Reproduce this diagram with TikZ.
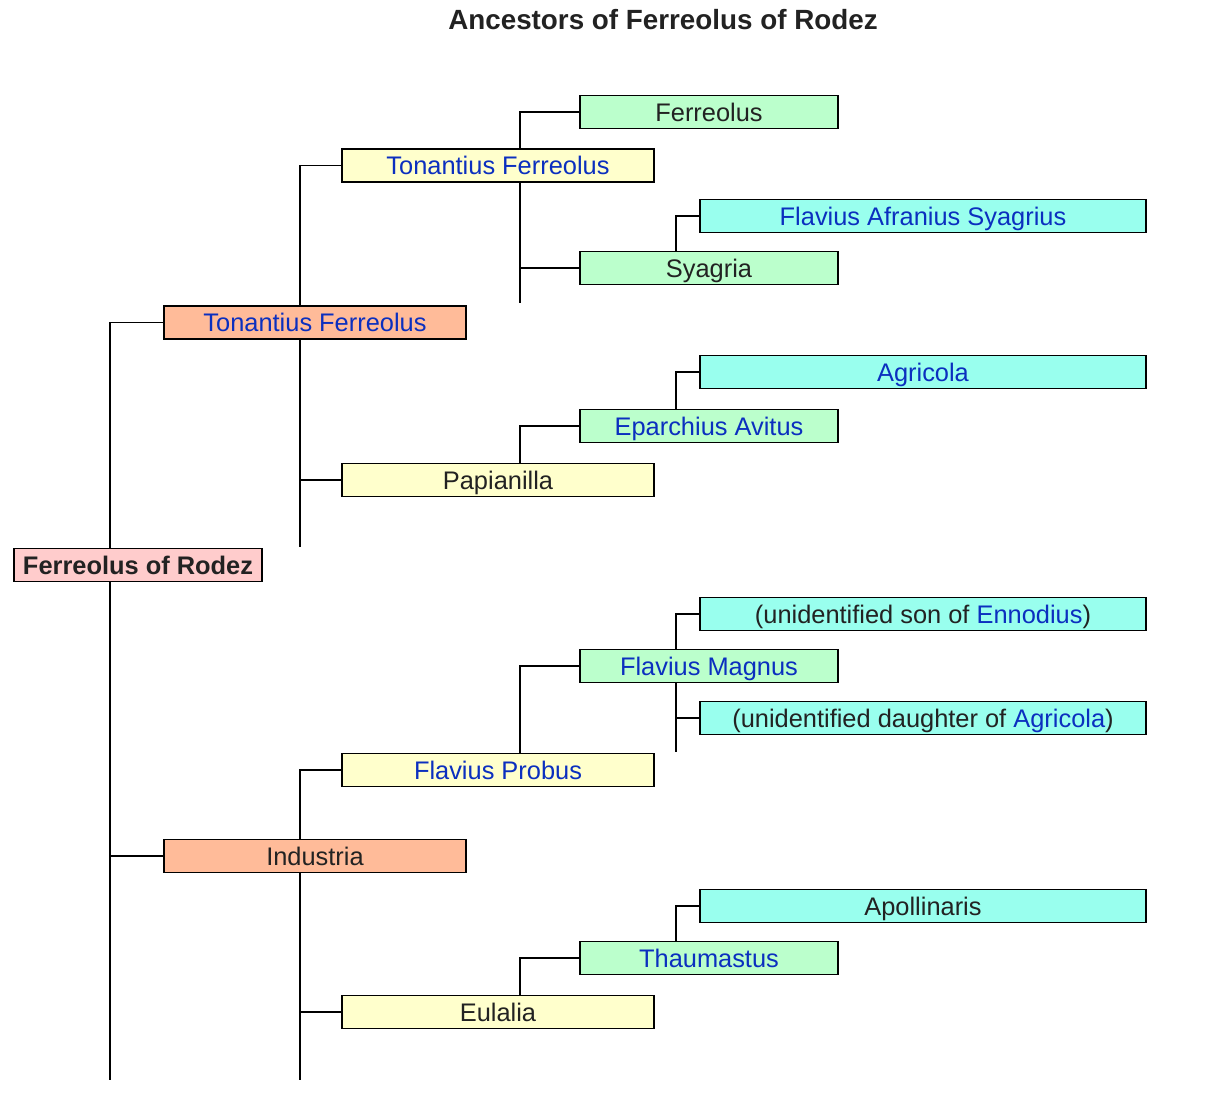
\documentclass[tikz,border=0pt]{standalone}
\usepackage{fontspec}
\setmainfont{Liberation Sans}
\usepackage{tikz}
\usetikzlibrary{positioning,backgrounds}
\usepackage{xcolor}

\definecolor{gen1}{HTML}{FFCCCC}
\definecolor{gen2}{HTML}{FFBB99}
\definecolor{gen3}{HTML}{FFFFCC}
\definecolor{gen4}{HTML}{BBFFCC}
\definecolor{gen5}{HTML}{99FFEE}
\definecolor{linkblue}{HTML}{0B2FBF}
\definecolor{inktext}{HTML}{222222}
\newcommand{\lnk}[1]{\textcolor{linkblue}{#1}}

\tikzset{
  person/.style={draw=black,line width=0.9pt,inner sep=0pt,minimum height=16.5pt,
                 text height=9.3pt,text depth=0pt,
                 text=inktext,font=\fontsize{12.7}{15}\selectfont},
  pone/.style={person,fill=gen1,minimum width=124pt,font=\fontsize{12.7}{15}\selectfont\bfseries},
  ptwo/.style={person,fill=gen2,minimum width=151pt},
  pthree/.style={person,fill=gen3,minimum width=156pt},
  pfour/.style={person,fill=gen4,minimum width=129pt},
  pfive/.style={person,fill=gen5,minimum width=223pt},
  link/.style={line width=0.9pt,black}
}

\begin{document}
\begin{tikzpicture}[x=0.5pt,y=-0.5pt]
  \useasboundingbox (0,0) rectangle (1216,1106);
  \node[font=\fontsize{13.9}{16}\selectfont\bfseries,text=inktext] (title) at (663,20) {Ancestors of Ferreolus of Rodez};

  \node[pone] (root) at (138,565) {Ferreolus of Rodez};

  \node[ptwo] (tonB) at (315,322.5) {\lnk{Tonantius Ferreolus}};
  \node[ptwo] (indus) at (315,856) {Industria};

  \node[pthree] (tonA) at (498,165.5) {\lnk{Tonantius Ferreolus}};
  \node[pthree] (papia) at (498,480) {Papianilla};
  \node[pthree] (probus) at (498,770) {\lnk{Flavius Probus}};
  \node[pthree] (eulal) at (498,1012) {Eulalia};

  \node[pfour] (ferre) at (709,112) {Ferreolus};
  \node[pfour] (syagr) at (709,268) {Syagria};
  \node[pfour] (avitus) at (709,426) {\lnk{Eparchius Avitus}};
  \node[pfour] (magnus) at (709,666) {\lnk{Flavius Magnus}};
  \node[pfour] (thaum) at (709,958) {\lnk{Thaumastus}};

  \node[pfive] (afran) at (923,216) {\lnk{Flavius Afranius Syagrius}};
  \node[pfive] (agric) at (923,372) {\lnk{Agricola}};
  \node[pfive] (ennod) at (923,614) {(unidentified son of \lnk{Ennodius})};
  \node[pfive] (daugh) at (923,718) {(unidentified daughter of \lnk{Agricola})};
  \node[pfive] (apoll) at (923,906) {Apollinaris};

  \coordinate (rootend) at (110,1080);
  \coordinate (tonBend) at (300,547);
  \coordinate (indusend) at (300,1080);
  \coordinate (tonAend) at (520,303);
  \coordinate (magnusend) at (676,752);

  \begin{scope}[on background layer]
    \draw[link] (tonB.west) -| (rootend);
    \draw[link] (indus.west) -- (indus.west -| rootend);

    \draw[link] (tonA.west) -| (tonBend);
    \draw[link] (papia.west) -- (papia.west -| tonBend);
    \draw[link] (probus.west) -| (indusend);
    \draw[link] (eulal.west) -- (eulal.west -| indusend);

    \draw[link] (ferre.west) -| (tonAend);
    \draw[link] (syagr.west) -- (syagr.west -| tonAend);
    \draw[link] (avitus.west) -| (papia.north -| tonAend);
    \draw[link] (magnus.west) -| (probus.north -| tonAend);
    \draw[link] (thaum.west) -| (eulal.north -| tonAend);

    \draw[link] (afran.west) -| (syagr.north -| magnusend);
    \draw[link] (agric.west) -| (avitus.north -| magnusend);
    \draw[link] (ennod.west) -| (magnusend);
    \draw[link] (daugh.west) -- (daugh.west -| magnusend);
    \draw[link] (apoll.west) -| (thaum.north -| magnusend);
  \end{scope}
\end{tikzpicture}
\end{document}
